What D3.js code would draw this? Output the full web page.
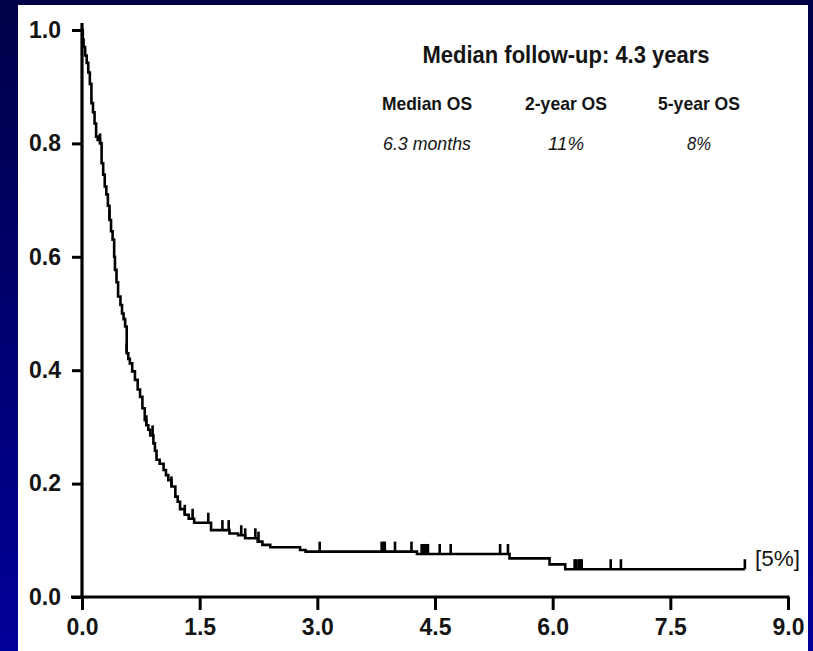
<!DOCTYPE html>
<html>
<head>
<meta charset="utf-8">
<script src="https://cdn.jsdelivr.net/npm/d3@7"></script>
<style>
  html, body { margin: 0; padding: 0; }
  body { width: 813px; height: 651px; overflow: hidden; }
  svg { display: block; }
  text { font-family: "Liberation Sans", Arial, Helvetica, sans-serif; fill: #141414; }
</style>
</head>
<body>
<svg id="chart" width="813" height="651"></svg>
<script>
// Kaplan–Meier overall survival: step points (time in years, survival probability)
const eventTimes = [0, 0.01, 0.02, 0.04, 0.06, 0.08, 0.10, 0.12, 0.14, 0.16, 0.18, 0.20, 0.23, 0.25, 0.27, 0.29,
  0.31, 0.33, 0.35, 0.37, 0.39, 0.41, 0.42, 0.44, 0.46, 0.49, 0.51, 0.53, 0.55, 0.57, 0.59, 0.61, 0.64,
  0.675, 0.71, 0.74, 0.77, 0.80, 0.82, 0.845, 0.87, 0.91, 0.93, 0.95, 0.99, 1.04, 1.07, 1.10, 1.14, 1.19,
  1.22, 1.25, 1.31, 1.36, 1.43, 1.645, 1.88, 1.99, 2.08, 2.24, 2.30, 2.40, 2.78, 2.85, 4.27, 5.45, 5.96, 6.16];
const survival = [1.0, 0.983, 0.97, 0.955, 0.942, 0.925, 0.905, 0.871, 0.855, 0.835, 0.812, 0.806, 0.80, 0.765, 0.745, 0.724,
  0.71, 0.69, 0.665, 0.645, 0.63, 0.60, 0.577, 0.555, 0.53, 0.515, 0.50, 0.49, 0.477, 0.43, 0.42, 0.412, 0.398,
  0.383, 0.366, 0.353, 0.333, 0.312, 0.303, 0.295, 0.285, 0.271, 0.258, 0.242, 0.235, 0.224, 0.215, 0.206, 0.195, 0.177,
  0.168, 0.155, 0.145, 0.138, 0.131, 0.118, 0.112, 0.109, 0.1035, 0.0976, 0.092, 0.0877, 0.083, 0.080, 0.0759, 0.0682, 0.0576, 0.049];
const lastFollowUp = 8.45;

// censored observations (years)
const censorTimes = [0.23, 0.35, 0.57, 0.82, 0.90, 1.14, 1.31, 1.41, 1.61, 1.79, 1.87, 2.03, 2.08, 2.21, 2.25,
  3.03, 3.82, 3.84, 3.86, 3.99, 4.20, 4.33, 4.35, 4.37, 4.39, 4.41, 4.56, 4.70, 5.33, 5.43,
  6.28, 6.30, 6.33, 6.35, 6.37, 6.74, 6.87, 8.45];

const xTicks = [0, 1.5, 3.0, 4.5, 6.0, 7.5, 9.0];
const yTicks = [0, 0.2, 0.4, 0.6, 0.8, 1.0];

const headerLabels = ["Median OS", "2-year OS", "5-year OS"];
const headerValues = ["6.3 months", "11%", "8%"];
const titleText = "Median follow-up: 4.3 years";
const endLabel = "[5%]";

const W = 813, H = 651;
const svg = d3.select("#chart");

// slide background
const defs = svg.append("defs");
const grad = defs.append("linearGradient").attr("id", "bg").attr("x1", 0).attr("y1", 0).attr("x2", 0).attr("y2", 1);
grad.append("stop").attr("offset", "0%").attr("stop-color", "#000048");
grad.append("stop").attr("offset", "100%").attr("stop-color", "#00009a");
svg.append("rect").attr("width", W).attr("height", H).attr("fill", "url(#bg)");

// white figure panel
svg.append("rect").attr("x", 18).attr("y", 5).attr("width", 790).attr("height", H - 5).attr("fill", "#ffffff");

const x = d3.scaleLinear().domain([0, 9]).range([82, 788]);
const y = d3.scaleLinear().domain([0, 1]).range([597, 30]);

// axes
const yAxis = d3.axisLeft(y).tickValues(yTicks).tickFormat(d3.format(".1f")).tickSize(10).tickPadding(11);
const xAxis = d3.axisBottom(x).tickValues(xTicks).tickFormat(d3.format(".1f")).tickSize(13).tickPadding(9);

const gy = svg.append("g").attr("transform", `translate(${x(0)},0)`).call(yAxis);
const gx = svg.append("g").attr("transform", `translate(0,${y(0)})`).call(xAxis);
[gy, gx].forEach(g => {
  g.select(".domain").remove();
  g.selectAll(".tick line").attr("stroke", "#000").attr("stroke-width", 3);
  g.selectAll(".tick text")
    .attr("fill", "#141414")
    .style("font-family", '"Liberation Sans", Arial, sans-serif')
    .style("font-size", "23px")
    .style("font-weight", "bold");
});

// axis lines
svg.append("line")
  .attr("x1", x(0)).attr("x2", x(0)).attr("y1", y(1) - 7).attr("y2", y(0) + 1.5)
  .attr("stroke", "#000").attr("stroke-width", 3.2);
svg.append("line")
  .attr("x1", x(0) - 11).attr("x2", x(9) + 1.5).attr("y1", y(0)).attr("y2", y(0))
  .attr("stroke", "#000").attr("stroke-width", 3.2);

// survival curve
const pts = eventTimes.map((t, i) => [t, survival[i]]);
pts.push([lastFollowUp, survival[survival.length - 1]]);
const line = d3.line().x(d => x(d[0])).y(d => y(d[1])).curve(d3.curveStepAfter);
svg.append("path").datum(pts).attr("d", line)
  .attr("fill", "none").attr("stroke", "#000").attr("stroke-width", 2.6);

// censor marks
const bis = d3.bisector(d => d).right;
const survAt = t => survival[Math.max(0, bis(eventTimes, t) - 1)];
svg.append("g").selectAll("line").data(censorTimes).join("line")
  .attr("x1", d => x(d)).attr("x2", d => x(d))
  .attr("y1", d => y(survAt(d)))
  .attr("y2", d => y(survAt(d)) - 10)
  .attr("stroke", "#000").attr("stroke-width", 2.6);

// summary text (condensed to the column widths)
svg.append("text").attr("x", 566).attr("y", 63).attr("text-anchor", "middle")
  .attr("textLength", 287).attr("lengthAdjust", "spacingAndGlyphs")
  .style("font-size", "23.5px").style("font-weight", "bold").text(titleText);

const colX = [427, 566, 699];
const headerW = [90, 82, 82];
const valueW = [88, 36, 24];
svg.append("g").selectAll("text").data(headerLabels).join("text")
  .attr("x", (d, i) => colX[i]).attr("y", 110).attr("text-anchor", "middle")
  .attr("textLength", (d, i) => headerW[i]).attr("lengthAdjust", "spacingAndGlyphs")
  .style("font-size", "19px").style("font-weight", "bold").text(d => d);
svg.append("g").selectAll("text").data(headerValues).join("text")
  .attr("x", (d, i) => colX[i]).attr("y", 150).attr("text-anchor", "middle")
  .attr("textLength", (d, i) => valueW[i]).attr("lengthAdjust", "spacingAndGlyphs")
  .style("font-size", "18.5px").style("font-style", "italic").text(d => d);

svg.append("text").attr("x", 755).attr("y", 566)
  .style("font-size", "22.5px").text(endLabel);
</script>
</body>
</html>
